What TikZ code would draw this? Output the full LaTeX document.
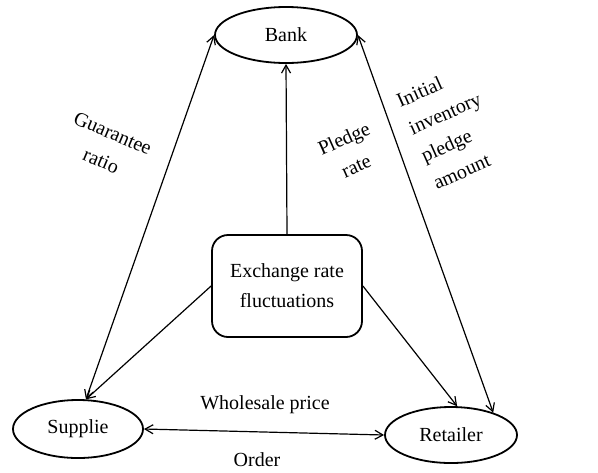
\documentclass[tikz,border=0pt]{standalone}
\usepackage{fontspec}
\setmainfont{Liberation Serif}
\usepackage{tikz}
\usetikzlibrary{arrows}
\usetikzlibrary{arrows.meta}
\usetikzlibrary{positioning}
\usetikzlibrary{shapes.geometric}

\tikzset{
  agent/.style={draw, ellipse, line width=0.9pt, inner sep=0pt},
  factor/.style={draw, rectangle, rounded corners=8pt, line width=0.9pt,
    minimum width=75pt, minimum height=51pt, align=center},
  lbl/.style={align=center, inner sep=0pt}
}

\begin{document}
\begin{tikzpicture}[x=0.5pt,y=-0.5pt,>={Straight Barb[length=4pt,width=4.5pt]},line width=0.6pt,
  every node/.style={font=\fontsize{10}{15}\selectfont}]
\useasboundingbox (0,0) rectangle (598,472);
\node[agent,minimum width=71pt,minimum height=28pt] at (286,35) (bank) {Bank};
\node[agent,minimum width=65pt,minimum height=29pt] at (78,429) (sup) {Supplie};
\node[agent,minimum width=66pt,minimum height=28pt] at (451,435) (ret) {Retailer};
\node[factor] at (287,286) (ex) {Exchange rate\\fluctuations};
\path[<->] (sup.75) edge (bank.west);
\path[<->] (bank.east) edge (ret.28);
\path[<->] (sup.east) edge (ret.west);
\path[->] (ex.north) edge (bank.south);
\path[->] (ex.west) edge (sup.75);
\path[->] (ex.east) edge (ret.78);
\node[lbl,rotate=-23] at (107,147) (gr) {Guarantee\\ratio};
\node[lbl,rotate=24] at (350,152) (pr) {Pledge\\rate};
\node[lbl,align=left,rotate=24] at (451,127) (ipa) {Initial\\inventory\\pledge\\amount};
\node[lbl] at (265,405) (wp) {Wholesale price};
\node[lbl] at (257,460) (ord) {Order};
\end{tikzpicture}
\end{document}
